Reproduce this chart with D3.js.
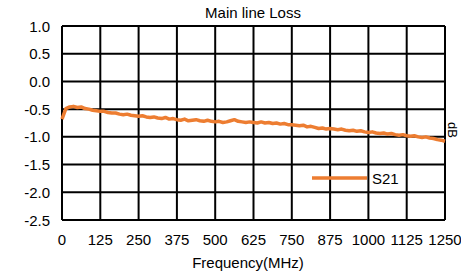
<!DOCTYPE html>
<html><head><meta charset="utf-8">
<script src="https://cdn.jsdelivr.net/npm/d3@7"></script>
<style>body{margin:0;background:#fff}svg{display:block;font-family:"Liberation Sans",Arial,sans-serif}</style>
</head><body>
<svg id="c" width="461" height="275"></svg>
<script>
const title = "Main line Loss";
const xTitle = "Frequency(MHz)";
const yTitle = "dB";
const seriesName = "S21";
const xTicks = [0,125,250,375,500,625,750,875,1000,1125,1250];
const yTicks = [1.0,0.5,0.0,-0.5,-1.0,-1.5,-2.0,-2.5];
const freq = [0,12.5,25,37.5,50,62.5,75,87.5,100,112.5,125,137.5,150,162.5,175,187.5,200,212.5,225,237.5,250,262.5,275,287.5,300,312.5,325,337.5,350,362.5,375,387.5,400,412.5,425,437.5,450,462.5,475,487.5,500,512.5,525,537.5,550,562.5,575,587.5,600,612.5,625,637.5,650,662.5,675,687.5,700,712.5,725,737.5,750,762.5,775,787.5,800,812.5,825,837.5,850,862.5,875,887.5,900,912.5,925,937.5,950,962.5,975,987.5,1000,1012.5,1025,1037.5,1050,1062.5,1075,1087.5,1100,1112.5,1125,1137.5,1150,1162.5,1175,1187.5,1200,1212.5,1225,1237.5,1250];
const s21 = [-0.68,-0.49,-0.46,-0.45,-0.47,-0.46,-0.49,-0.50,-0.52,-0.53,-0.54,-0.54,-0.56,-0.57,-0.57,-0.59,-0.60,-0.59,-0.61,-0.62,-0.63,-0.62,-0.64,-0.65,-0.64,-0.66,-0.67,-0.65,-0.68,-0.67,-0.69,-0.70,-0.68,-0.71,-0.70,-0.69,-0.71,-0.72,-0.70,-0.72,-0.73,-0.72,-0.74,-0.73,-0.71,-0.69,-0.72,-0.73,-0.74,-0.73,-0.74,-0.75,-0.73,-0.75,-0.74,-0.76,-0.75,-0.77,-0.76,-0.78,-0.78,-0.79,-0.80,-0.79,-0.82,-0.81,-0.83,-0.85,-0.84,-0.86,-0.85,-0.86,-0.87,-0.86,-0.88,-0.89,-0.88,-0.90,-0.89,-0.91,-0.92,-0.91,-0.93,-0.94,-0.93,-0.95,-0.94,-0.96,-0.97,-0.96,-0.98,-0.99,-0.98,-1.00,-1.01,-1.00,-1.02,-1.03,-1.05,-1.06,-1.08];

const svg = d3.select("#c");
const L=62, R=445, T=26, B=220;
const x = d3.scaleLinear().domain([0,1250]).range([L,R]);
const y = d3.scaleLinear().domain([-2.5,1.0]).range([B,T]);
const color = "#ED7D31";

// grid
const g = svg.append("g").attr("stroke","#000").attr("stroke-width",2);
xTicks.forEach(t=>g.append("line").attr("x1",x(t)).attr("x2",x(t)).attr("y1",T).attr("y2",B));
yTicks.forEach(t=>g.append("line").attr("x1",L).attr("x2",R).attr("y1",y(t)).attr("y2",y(t)));

// y labels
svg.append("g").selectAll("text").data(yTicks).join("text")
  .attr("x",50).attr("y",d=>y(d)+5.5).attr("text-anchor","end")
  .attr("font-size",15).attr("fill","#000").text(d=>d.toFixed(1));
// x labels
svg.append("g").selectAll("text").data(xTicks).join("text")
  .attr("x",d=>x(d)).attr("y",245).attr("text-anchor","middle")
  .attr("font-size",15).attr("fill","#000").text(d=>d);

// line
const line = d3.line().x((d,i)=>x(freq[i])).y(d=>y(d));
svg.append("path").datum(s21).attr("d",line).attr("fill","none")
  .attr("stroke",color).attr("stroke-width",3.5).attr("stroke-linejoin","round");

// titles
svg.append("text").attr("x",253).attr("y",18).attr("text-anchor","middle").attr("font-size",15).text(title);
svg.append("text").attr("x",248).attr("y",268).attr("text-anchor","middle").attr("font-size",15).text(xTitle);
svg.append("text").attr("transform","translate(448,130) rotate(90)").attr("text-anchor","middle").attr("font-size",13).text(yTitle);

// legend
svg.append("line").attr("x1",312).attr("x2",367).attr("y1",178).attr("y2",178).attr("stroke",color).attr("stroke-width",3.5);
svg.append("text").attr("x",372).attr("y",183.5).attr("font-size",15).text(seriesName);
</script>
</body></html>
